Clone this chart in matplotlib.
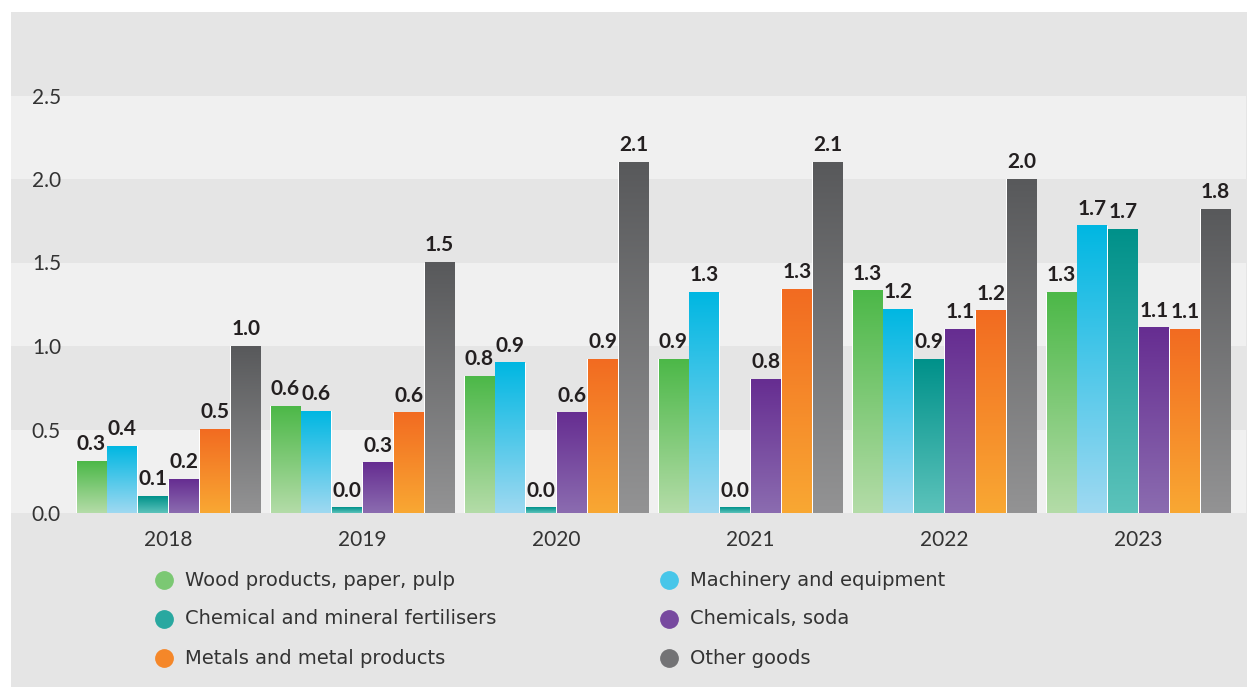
import numpy as np
import matplotlib
matplotlib.use('Agg')
import matplotlib.pyplot as plt
from matplotlib.colors import LinearSegmentedColormap
from matplotlib.lines import Line2D
from matplotlib.patches import Rectangle

years = ['2018', '2019', '2020', '2021', '2022', '2023']
series = [
    'Wood products, paper, pulp',
    'Machinery and equipment',
    'Chemical and mineral fertilisers',
    'Chemicals, soda',
    'Metals and metal products',
    'Other goods',
]
wood = [0.31, 0.64, 0.82, 0.92, 1.33, 1.32]
machinery = [0.40, 0.61, 0.90, 1.32, 1.22, 1.72]
fertilisers = [0.10, 0.03, 0.03, 0.03, 0.92, 1.70]
chemicals = [0.20, 0.30, 0.60, 0.80, 1.10, 1.11]
metals = [0.50, 0.60, 0.92, 1.34, 1.21, 1.10]
other = [1.00, 1.50, 2.10, 2.10, 2.00, 1.82]
values = [wood, machinery, fertilisers, chemicals, metals, other]

# (top colour, bottom colour) for the vertical gradient of each series
grad_colors = [
    ('#4cb848', '#b4dca8'),
    ('#00b7e2', '#9fd9f1'),
    ('#00918a', '#5cc3bb'),
    ('#662d91', '#8b6cb0'),
    ('#f26b21', '#f9a833'),
    ('#58595b', '#939394'),
]

plt.rcParams['font.family'] = ['Lato', 'DejaVu Sans']

W, H = 1247, 687
fig = plt.figure(figsize=(W / 100, H / 100), dpi=100, facecolor='white')

# grey panel behind everything
fig.add_artist(Rectangle((11 / W, 0), 1 - 11 / W, 1 - 12 / H, transform=fig.transFigure,
                         facecolor='#e5e5e5', edgecolor='none', zorder=0))

ax = fig.add_axes([11 / W, (H - 513) / H, (1246 - 11) / W, (513 - 12) / H])
ax.patch.set_visible(False)
for s in ax.spines.values():
    s.set_visible(False)

for lo in (0.0, 1.0, 2.0):
    ax.axhspan(lo, lo + 0.5, color='#f0f0f0', zorder=0.5, lw=0)

x = np.arange(len(years))
w = 0.159
gap = 0.006  # thin white seam between neighbouring bars
grad = np.linspace(0, 1, 256).reshape(-1, 1)
for j, (vals, (ctop, cbot)) in enumerate(zip(values, grad_colors)):
    cmap = LinearSegmentedColormap.from_list(f's{j}', [cbot, ctop])
    xs = x + (j - 2.5) * w
    bars = ax.bar(xs, vals, width=w, facecolor='white', lw=0, zorder=1)
    for b, v in zip(bars, vals):
        x0 = b.get_x()
        ax.imshow(grad, extent=[x0 + gap / 2, x0 + w - gap / 2, 0, v], origin='lower',
                  aspect='auto', cmap=cmap, zorder=2, interpolation='bilinear')
        ax.annotate(f'{v:.1f}', (x0 + w / 2, v), xytext=(0, 8), textcoords='offset points',
                    ha='center', va='baseline', fontsize=15, fontweight='bold', color='#231f20')

ax.set_xlim((11 - 168.5) / 194, (1246 - 168.5) / 194)
ax.set_ylim(0, 3.0)

ax.set_yticks([0, 0.5, 1.0, 1.5, 2.0, 2.5])
ax.set_yticklabels(['0.0', '0.5', '1.0', '1.5', '2.0', '2.5'])
ax.tick_params(axis='y', length=0, pad=-15, labelsize=15, labelcolor='#333333')
for t in ax.get_yticklabels():
    t.set_horizontalalignment('left')

ax.set_xticks(x)
ax.set_xticklabels(years)
ax.tick_params(axis='x', length=0, pad=12, labelsize=15, labelcolor='#333333')

# legend, two columns, filled row by row
for i, (name, (ctop, cbot)) in enumerate(zip(series, grad_colors)):
    col, row = i % 2, i // 2
    mx = (163.5 + col * 505) / W
    my = (H - (580 + row * 39)) / H
    mid = LinearSegmentedColormap.from_list('m', [cbot, ctop])(0.55)
    fig.add_artist(Line2D([mx], [my], marker='o', markersize=12.5, color=mid, lw=0,
                          transform=fig.transFigure))
    fig.text(mx + 21.5 / W, my, name, fontsize=14, color='#333333', va='center',
             ha='left', family='DejaVu Sans')

fig.savefig('out.png', dpi=100, facecolor='white')
